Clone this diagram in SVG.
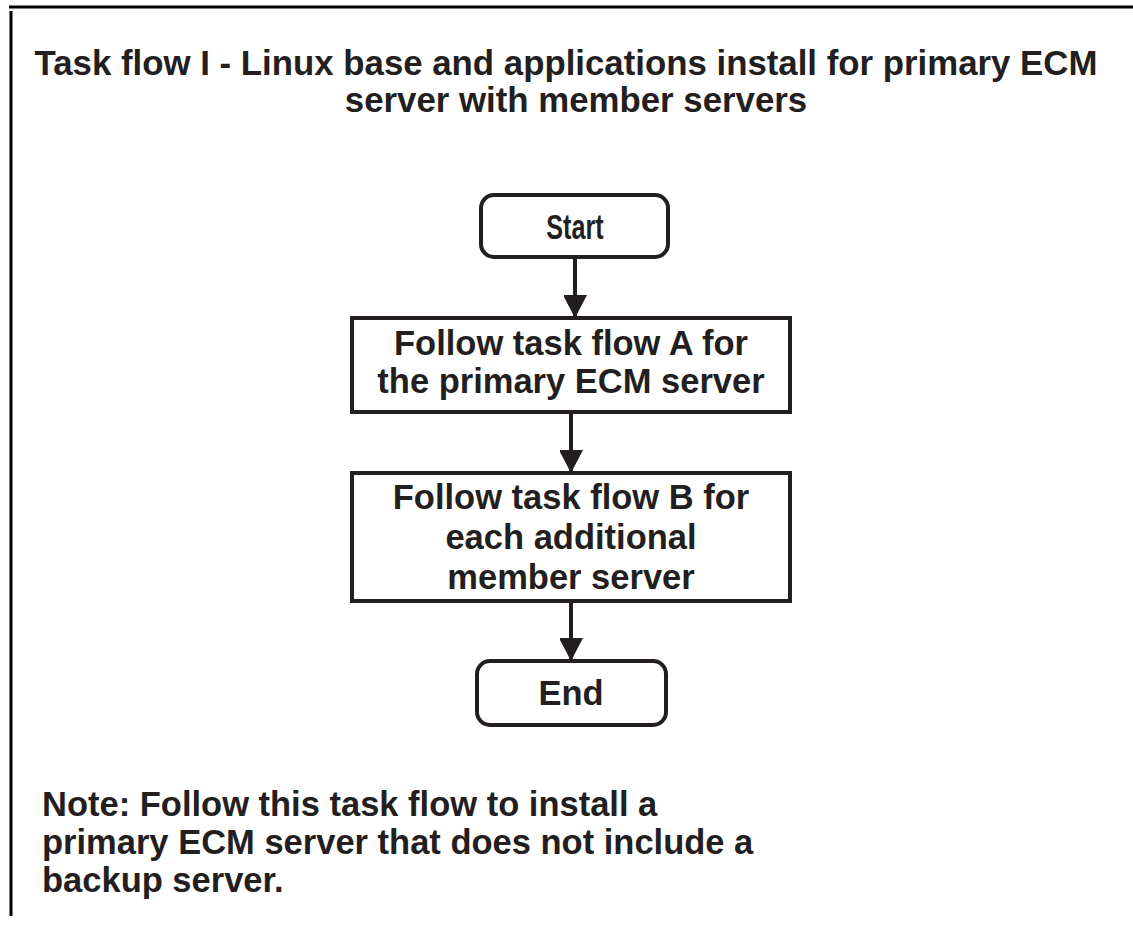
<svg xmlns="http://www.w3.org/2000/svg" width="1133" height="935" viewBox="0 0 1133 935">
<style>
.t{font-family:"Liberation Sans",Arial,sans-serif;font-weight:bold;font-size:34.5px;fill:#231f20}
.h{font-size:34.8px}
.c{text-anchor:middle}
.n{font-family:"Liberation Sans",Arial,sans-serif;font-weight:bold;font-size:35px;fill:#231f20;text-anchor:middle}
.box{fill:#fff;stroke:#231f20;stroke-width:4}
.con{stroke:#231f20;stroke-width:4;fill:none}
.frame{stroke:#000;stroke-width:3}
</style>
<defs>
<marker id="ah" viewBox="0 0 24 23" refX="23" refY="12" markerWidth="24" markerHeight="23" markerUnits="userSpaceOnUse" orient="auto">
<path d="M0,0 L23,12 L0,24 Z" fill="#231f20"/>
</marker>
</defs>
<rect width="1133" height="935" fill="#fff"/>
<g id="frame">
<line class="frame" x1="9" y1="7" x2="1133" y2="7"/>
<line class="frame" x1="11" y1="11" x2="11" y2="916"/>
</g>
<g id="title">
<text class="t h c" x="566" y="75">Task flow I - Linux base and applications install for primary ECM</text>
<text class="t h c" x="576" y="112">server with member servers</text>
</g>
<g id="connectors">
<line class="con" x1="575" y1="257" x2="575" y2="318" marker-end="url(#ah)"/>
<line class="con" x1="571" y1="412" x2="571" y2="473" marker-end="url(#ah)"/>
<line class="con" x1="571" y1="601" x2="571" y2="661" marker-end="url(#ah)"/>
</g>
<g id="start">
<rect class="box" x="481" y="195" width="187" height="62" rx="13"/>
<text class="n" transform="translate(575,239) scale(0.72,1)" x="0" y="0">Start</text>
</g>
<g id="taskA">
<rect class="box" x="352" y="318" width="438" height="94"/>
<text class="t c" x="571" y="355">Follow task flow A for</text>
<text class="t c" x="571" y="393">the primary ECM server</text>
</g>
<g id="taskB">
<rect class="box" x="352" y="473" width="438" height="128"/>
<text class="t c" x="571" y="509">Follow task flow B for</text>
<text class="t c" x="571" y="549">each additional</text>
<text class="t c" x="571" y="589">member server</text>
</g>
<g id="end">
<rect class="box" x="477" y="661" width="189" height="64" rx="13"/>
<text class="t c" x="571" y="705">End</text>
</g>
<g id="note">
<text class="t" x="42" y="816">Note: Follow this task flow to install a</text>
<text class="t" x="42" y="854">primary ECM server that does not include a</text>
<text class="t" x="42" y="892">backup server.</text>
</g>
</svg>
